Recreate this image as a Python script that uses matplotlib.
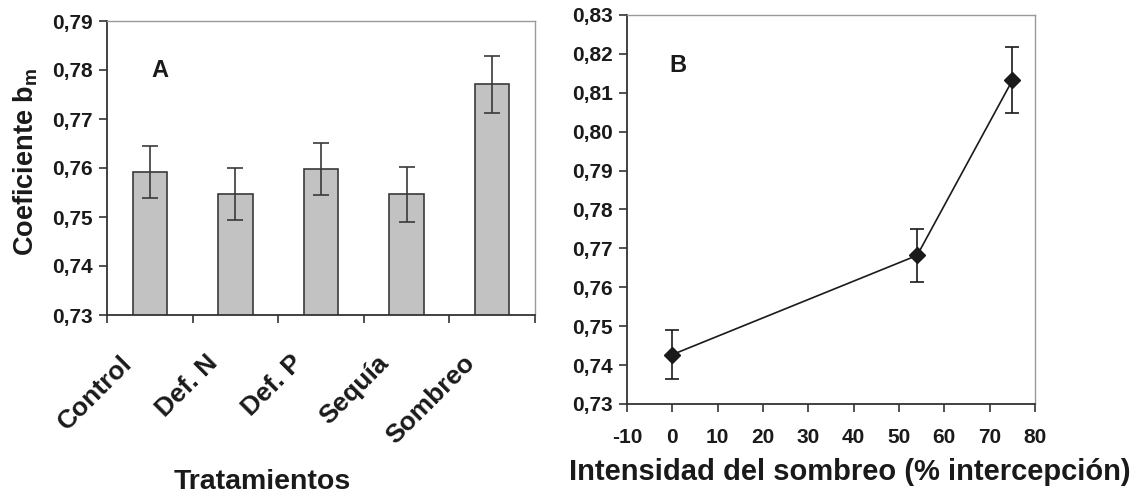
import numpy as np
import matplotlib
matplotlib.use("Agg")
from matplotlib import pyplot as plt
from matplotlib.ticker import FuncFormatter, MultipleLocator, FixedLocator
from matplotlib.transforms import ScaledTranslation

plt.rcParams['font.family'] = ['Liberation Sans', 'DejaVu Sans']
plt.rcParams['font.weight'] = 'bold'
plt.rcParams['axes.labelweight'] = 'bold'
plt.rcParams['mathtext.fontset'] = 'custom'
plt.rcParams['mathtext.rm'] = 'Liberation Sans:bold'
plt.rcParams['mathtext.bf'] = 'Liberation Sans:bold'

# panel A
tratamientos = ["Control", "Def. N", "Def. P", "Sequía", "Sombreo"]
coef_bm = [0.7592, 0.7546, 0.7598, 0.7546, 0.7771]
err_bm = [0.0053, 0.0053, 0.0053, 0.0056, 0.0058]

# panel B
intercepcion = [0, 54, 75]
coef_b = [0.7427, 0.7682, 0.8132]
err_b = [0.0062, 0.0069, 0.0085]

txt = '#1a1a1a'
comma = FuncFormatter(lambda v, p: f"{v:.2f}".replace('.', ','))

fig = plt.figure(figsize=(11.41, 4.99), dpi=100)
W, H = 1141, 499
ax1 = fig.add_axes([107 / W, 1 - 315 / H, 428 / W, 294 / H])
ax2 = fig.add_axes([627 / W, 1 - 404 / H, 408 / W, 389 / H])

for ax in (ax1, ax2):
    for s in ('left', 'bottom'):
        ax.spines[s].set_color('#333333')
        ax.spines[s].set_linewidth(1.3)
    for s in ('top', 'right'):
        ax.spines[s].set_color('#999999')
        ax.spines[s].set_linewidth(1.0)
    ax.tick_params(axis='y', direction='out', length=6, width=1.2, color='#333333',
                   labelsize=15, labelcolor=txt, pad=4)
    ax.yaxis.set_major_formatter(comma)

# A: bars
x = np.arange(len(tratamientos))
ax1.bar(x, coef_bm, width=0.4, bottom=0, color='#c2c2c2', edgecolor='#3a3a3a',
        linewidth=1.2, zorder=2)
ax1.errorbar(x, coef_bm, yerr=err_bm, fmt='none', ecolor='#3a3a3a', elinewidth=1.2,
             capsize=6, capthick=1.2, zorder=3)
ax1.set_xlim(-0.5, len(tratamientos) - 0.5)
ax1.set_ylim(0.73, 0.79)
ax1.yaxis.set_major_locator(MultipleLocator(0.01))
ax1.set_xticks(x)
ax1.set_xticklabels(tratamientos, rotation=45, ha='right', va='top',
                    rotation_mode='anchor', fontsize=19, color=txt)
ax1.tick_params(axis='x', which='major', length=0, pad=0)
shift = ScaledTranslation(-0.30, -0.36, fig.dpi_scale_trans)
for lab in ax1.get_xticklabels():
    lab.set_transform(lab.get_transform() + shift)
ax1.xaxis.set_minor_locator(FixedLocator(np.arange(-0.5, len(tratamientos), 1.0)))
ax1.tick_params(axis='x', which='minor', length=6, width=1.2, color='#333333')
ax1.set_ylabel(r"Coeficiente b$_{\mathbf{m}}$", fontsize=19.5, color=txt, va='center')
ax1.yaxis.set_label_coords(-0.19, 0.52)
ax1.set_xlabel("Tratamientos", fontsize=20.5, color=txt, va='center')
ax1.xaxis.set_label_coords(0.362, -0.568)
ax1.text(0.124, 0.832, "A", transform=ax1.transAxes, fontsize=17, color=txt,
         ha='center', va='center')

# B: line
ax2.errorbar(intercepcion, coef_b, yerr=err_b, color='#1a1a1a', lw=1.2, marker='D',
             markersize=8, ecolor='#1a1a1a', elinewidth=1.2, capsize=5, capthick=1.2)
ax2.set_xlim(-10, 80)
ax2.set_ylim(0.73, 0.83)
ax2.yaxis.set_major_locator(MultipleLocator(0.01))
ax2.xaxis.set_major_locator(MultipleLocator(10))
ax2.xaxis.set_major_formatter(FuncFormatter(lambda v, p: f"{v:.0f}"))
ax2.tick_params(axis='x', direction='out', length=6, width=1.2, color='#333333',
                labelsize=15, labelcolor=txt, pad=11)
ax2.set_xlabel("Intensidad del sombreo (% intercepción)", fontsize=21, color=txt,
               va='center')
ax2.xaxis.set_label_coords(0.547, -0.175)
ax2.text(0.124, 0.87, "B", transform=ax2.transAxes, fontsize=17, color=txt,
         ha='center', va='center')

fig.savefig("out.png", dpi=100)
